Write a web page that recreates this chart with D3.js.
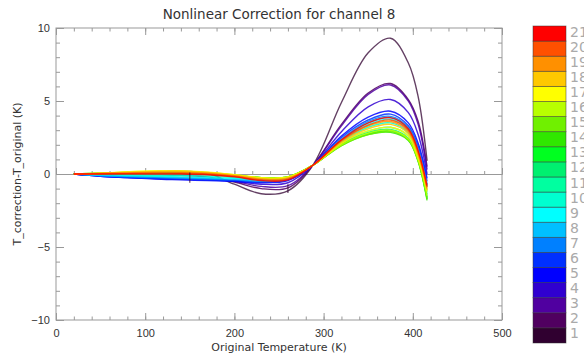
<!DOCTYPE html>
<html lang="en">
<head>
  <meta charset="UTF-8">
  <title>Nonlinear Correction for channel 8</title>
  <script src="https://d3js.org/d3.v7.min.js"></script>
  <style>
    body { margin: 0; background: white; font-family: "DejaVu Sans", sans-serif; }
    svg text { fill: #333; }
  </style>
</head>
<body>
  <svg id="chart" width="584" height="356"></svg>

  <script>
    // temperatures (K) where each curve is sampled
    const temps = [20, 50, 80, 110, 140, 170, 200, 230, 260, 288, 320, 350, 375, 395, 406, 416];

    // one correction curve per colour index 1..21
    const curves = [
      [0, -0.1, 0, 0.1, 0.2, 0.05, -0.7, -1.35, -1.15, 0.6, 4.9, 8.3, 9.3, 7.6, 5.3, 0.9],
      [0, -0.1, -0.15, -0.15, -0.1, -0.2, -0.55, -1.0, -0.95, 0.6, 3.4, 5.55, 6.2, 5.1, 3.6, 0.5],
      [0, -0.1, -0.2, -0.25, -0.25, -0.3, -0.5, -0.85, -0.8, 0.6, 3.3, 5.45, 6.1, 5.0, 3.4, 0.3],
      [0, -0.15, -0.25, -0.3, -0.35, -0.4, -0.5, -0.7, -0.6, 0.6, 2.9, 4.6, 5.1, 4.2, 2.7, 0.0],
      [0, -0.15, -0.25, -0.35, -0.4, -0.45, -0.5, -0.6, -0.45, 0.6, 2.6, 3.9, 4.3, 3.5, 2.1, -0.3],
      [0, -0.15, -0.25, -0.3, -0.35, -0.4, -0.45, -0.55, -0.4, 0.6, 2.5, 3.7, 4.1, 3.3, 1.9, -0.5],
      [0, -0.1, -0.2, -0.25, -0.3, -0.35, -0.4, -0.5, -0.35, 0.6, 2.4, 3.6, 3.95, 3.2, 1.7, -0.7],
      [0, -0.1, -0.15, -0.2, -0.25, -0.3, -0.35, -0.45, -0.3, 0.6, 2.35, 3.5, 3.85, 3.1, 1.6, -0.8],
      [0, -0.05, -0.1, -0.15, -0.2, -0.25, -0.3, -0.4, -0.3, 0.6, 2.3, 3.4, 3.75, 3.0, 1.5, -0.9],
      [0, 0, -0.05, -0.1, -0.1, -0.15, -0.25, -0.35, -0.25, 0.6, 2.2, 3.2, 3.5, 2.8, 1.3, -1.2],
      [0, 0, 0, 0, 0, -0.05, -0.15, -0.3, -0.2, 0.6, 2.1, 2.95, 3.2, 2.6, 1.1, -1.4],
      [0, 0.02, 0.05, 0.05, 0.05, 0, -0.1, -0.25, -0.2, 0.6, 2.05, 2.85, 3.05, 2.45, 1.0, -1.6],
      [0, 0.03, 0.08, 0.1, 0.1, 0.05, -0.1, -0.25, -0.2, 0.6, 2.0, 2.75, 2.95, 2.35, 0.9, -1.7],
      [0, 0.05, 0.1, 0.12, 0.12, 0.05, -0.1, -0.25, -0.2, 0.6, 1.95, 2.7, 2.85, 2.3, 0.85, -1.8],
      [0, 0.05, 0.1, 0.15, 0.15, 0.08, -0.08, -0.25, -0.2, 0.6, 1.95, 2.7, 2.9, 2.35, 0.9, -1.7],
      [0, 0.05, 0.12, 0.18, 0.18, 0.1, -0.05, -0.25, -0.2, 0.6, 2.0, 2.8, 3.0, 2.4, 0.95, -1.5],
      [0, 0.05, 0.15, 0.22, 0.22, 0.12, -0.05, -0.25, -0.2, 0.6, 2.1, 2.95, 3.2, 2.6, 1.1, -1.2],
      [0, 0.05, 0.12, 0.18, 0.2, 0.1, -0.08, -0.3, -0.25, 0.6, 2.15, 3.1, 3.4, 2.75, 1.25, -1.1],
      [0, 0.03, 0.08, 0.12, 0.12, 0.05, -0.12, -0.35, -0.3, 0.6, 2.25, 3.3, 3.6, 2.9, 1.4, -1.0],
      [0, 0.02, 0.04, 0.06, 0.05, 0, -0.15, -0.4, -0.35, 0.6, 2.3, 3.35, 3.7, 3.0, 1.5, -0.9],
      [0, 0, 0, 0, 0, -0.05, -0.2, -0.45, -0.4, 0.6, 2.35, 3.5, 3.86, 3.1, 1.6, -0.8]
    ];

    // colour table, index 1..21
    const colors = ["#300030", "#500060", "#5000a0", "#3000d0", "#0000ff", "#0030ff", "#0080ff",
      "#00c0ff", "#00ffff", "#00ffd0", "#00ffa0", "#00f070", "#00ff20", "#30e800", "#70f000",
      "#b8ff00", "#ffff00", "#ffc800", "#ff9000", "#ff5000", "#ff0000"];
    const levels = d3.range(1, 22);

    // small vertical jumps seen on the darkest curve
    const jumps = [{t: 150, lo: -0.6, hi: 0.1}, {t: 260, lo: -1.3, hi: -0.7}];

    const xTicks = [0, 100, 200, 300, 400, 500];
    const yTicks = [-10, -5, 0, 5, 10];

    const svg = d3.select("#chart");
    const x = d3.scaleLinear().domain([0, 500]).range([56, 502]);
    const y = d3.scaleLinear().domain([-10, 10]).range([320, 28]);
    const axisColor = "#999";

    // frame
    svg.append("rect")
      .attr("x", x(0)).attr("y", y(10))
      .attr("width", x(500) - x(0)).attr("height", y(-10) - y(10))
      .attr("fill", "none").attr("stroke", axisColor);

    function ticks(g) {
      g.select(".domain").remove();
      g.selectAll("line").attr("stroke", axisColor);
      g.selectAll("text").attr("font-size", "11px").attr("fill", "#333");
    }

    const minorX = d3.range(0, 501, 20);
    const minorY = d3.range(-10, 11, 1);

    // bottom & top
    svg.append("g").attr("transform", `translate(0,${y(-10)})`)
      .call(d3.axisBottom(x).tickValues(minorX).tickSize(-3.5).tickFormat("")).call(ticks);
    svg.append("g").attr("transform", `translate(0,${y(-10)})`)
      .call(d3.axisBottom(x).tickValues(xTicks).tickSize(-7).tickPadding(9).tickFormat(d3.format("d"))).call(ticks);
    svg.append("g").attr("transform", `translate(0,${y(10)})`)
      .call(d3.axisTop(x).tickValues(minorX).tickSize(-3.5).tickFormat("")).call(ticks);
    svg.append("g").attr("transform", `translate(0,${y(10)})`)
      .call(d3.axisTop(x).tickValues(xTicks).tickSize(-7).tickFormat("")).call(ticks);

    // left & right
    svg.append("g").attr("transform", `translate(${x(0)},0)`)
      .call(d3.axisLeft(y).tickValues(minorY).tickSize(-4).tickFormat("")).call(ticks);
    svg.append("g").attr("transform", `translate(${x(0)},0)`)
      .call(d3.axisLeft(y).tickValues(yTicks).tickSize(-8).tickPadding(6)).call(ticks);
    svg.append("g").attr("transform", `translate(${x(500)},0)`)
      .call(d3.axisRight(y).tickValues(minorY).tickSize(-4).tickFormat("")).call(ticks);
    svg.append("g").attr("transform", `translate(${x(500)},0)`)
      .call(d3.axisRight(y).tickValues(yTicks).tickSize(-8).tickFormat("")).call(ticks);

    // zero line with upward ticks
    svg.append("g").attr("transform", `translate(0,${y(0)})`)
      .call(d3.axisTop(x).tickValues(minorX).tickSize(3).tickFormat(""))
      .call(g => g.selectAll("line,path").attr("stroke", axisColor));
    svg.append("g").attr("transform", `translate(0,${y(0)})`)
      .call(d3.axisTop(x).tickValues(xTicks).tickSize(6).tickFormat(""))
      .call(g => g.select(".domain").remove())
      .call(g => g.selectAll("line").attr("stroke", axisColor));

    // curves
    const line = d3.line()
      .x((d, i) => x(temps[i]))
      .y(d => y(d))
      .curve(d3.curveCatmullRom.alpha(0.5));

    svg.append("g").selectAll("path")
      .data(curves)
      .join("path")
      .attr("d", line)
      .attr("fill", "none")
      .attr("stroke", (d, i) => colors[i])
      .attr("stroke-opacity", (d, i) => i === 0 ? 0.75 : 0.85)
      .attr("stroke-width", 1.4);

    svg.append("g").selectAll("line")
      .data(jumps)
      .join("line")
      .attr("x1", d => x(d.t)).attr("x2", d => x(d.t))
      .attr("y1", d => y(d.lo)).attr("y2", d => y(d.hi))
      .attr("stroke", colors[0]).attr("stroke-opacity", 0.75).attr("stroke-width", 1.2);

    // titles
    svg.append("text")
      .attr("x", 279).attr("y", 19)
      .attr("text-anchor", "middle").attr("font-size", "13.5px")
      .text("Nonlinear Correction for channel 8");

    svg.append("text")
      .attr("x", 279).attr("y", 351)
      .attr("text-anchor", "middle").attr("font-size", "11px")
      .text("Original Temperature (K)");

    svg.append("text")
      .attr("transform", `translate(21,${y(0)}) rotate(-90)`)
      .attr("text-anchor", "middle").attr("font-size", "11px")
      .text("T_correction-T_original (K)");

    // colour bar
    const cb = d3.scaleBand().domain(levels.slice().reverse()).range([26, 343]);
    const bar = svg.append("g");
    bar.selectAll("rect")
      .data(levels)
      .join("rect")
      .attr("x", 533).attr("y", d => cb(d))
      .attr("width", 33).attr("height", cb.bandwidth())
      .attr("fill", d => colors[d - 1])
      .attr("stroke", "#333").attr("stroke-opacity", 0.6).attr("stroke-width", 0.8);

    bar.selectAll("text")
      .data(levels)
      .join("text")
      .attr("x", 570).attr("y", d => cb(d) + cb.bandwidth() / 2 - 1)
      .attr("dominant-baseline", "middle")
      .attr("font-size", "14px")
      .style("fill", "#aaa")
      .text(d => d);
  </script>
</body>
</html>
